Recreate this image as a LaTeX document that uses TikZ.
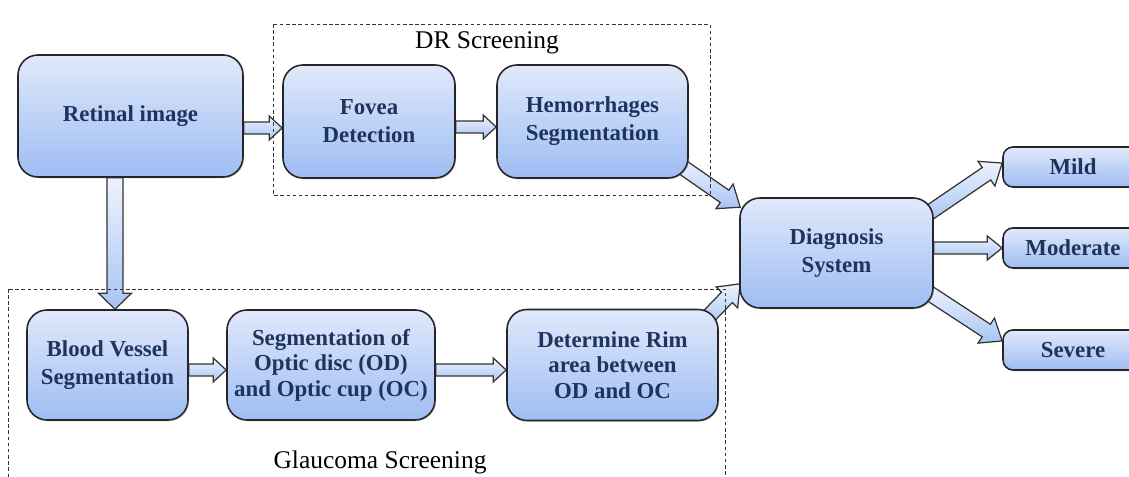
\documentclass[tikz,border=0pt]{standalone}
\usepackage{fontspec}
\setmainfont{Liberation Serif}
\usetikzlibrary{positioning, calc, shadows, backgrounds}

\definecolor{boxtop}{RGB}{224,233,251}
\definecolor{boxbot}{RGB}{158,189,243}
\definecolor{boxtext}{RGB}{30,52,92}
\definecolor{arrtop}{RGB}{238,243,253}
\definecolor{arrbot}{RGB}{168,196,245}

\newcommand{\blockarrow}[5]{%
  \path[barrow] let \p1=($(#2)-(#1)$), \n1={atan2(\y1,\x1)}, \n2={veclen(\x1,\y1)} in
    [shift={(#1)}, rotate=\n1]
    (0,-#3) -- ({\n2-#5},-#3) -- ({\n2-#5},-#4) -- ({\n2*1pt},0)
    -- ({\n2-#5},#4) -- ({\n2-#5},#3) -- (0,#3) -- cycle;}

\begin{document}
\begin{tikzpicture}[node distance=4cm,on grid,
    box/.style={draw=black!85, line width=0.9pt, rounded corners=0.4cm,
      top color=boxtop, bottom color=boxbot, text=boxtext, align=center,
      font=\fontsize{13}{16}\selectfont\bfseries, inner sep=2pt,
      drop shadow={opacity=0.3, shadow xshift=0.6pt, shadow yshift=-0.8pt}},
    grade/.style={box, rounded corners=0.2cm, minimum width=2.8cm, minimum height=0.8cm},
    barrow/.style={draw=black!80, line width=0.7pt, line join=miter,
      top color=arrtop, bottom color=arrbot},
    zone/.style={draw=black!80, line width=0.5pt, dash pattern=on 2pt off 1.5pt},
    sect/.style={font=\fontsize{14.5}{17}\selectfont}]
    \path[use as bounding box, clip] (0,0) rectangle (22.58,-9.54);

    \draw[zone] (5.46,-0.48) rectangle (14.2,-3.9);
    \draw[zone] (0.16,-5.78) rectangle (14.5,-10);
    \node[sect] (drlab) at (9.74,-0.86) {DR Screening};
    \node[sect] (gllab) at (7.6,-9.24) {Glaucoma Screening};

    \node[box, minimum width=4.5cm, minimum height=2.44cm] (retinal) at (2.61,-2.32) {Retinal image};
    \node[box, minimum width=3.44cm, minimum height=2.26cm] (fovea) at (7.38,-2.43) {Fovea\\Detection};
    \node[box, minimum width=3.82cm, minimum height=2.26cm, right=4.47cm of fovea] (hem) {Hemorrhages\\Segmentation};
    \node[box, minimum width=3.86cm, minimum height=2.2cm] (diag) at (16.73,-5.06) {Diagnosis\\System};
    \node[box, minimum width=3.22cm, minimum height=2.2cm] (blood) at (2.15,-7.3) {Blood Vessel\\Segmentation};
    \node[box, minimum width=4.16cm, minimum height=2.2cm, right=4.47cm of blood,
      font=\fontsize{13}{14.5}\selectfont\bfseries] (optic) {Segmentation of\\Optic disc (OD)\\and Optic cup (OC)};
    \node[box, minimum width=4.22cm, minimum height=2.22cm, right=5.63cm of optic,
      font=\fontsize{13}{14.5}\selectfont\bfseries] (rim) {Determine Rim\\area between\\OD and OC};
    \node[grade] (mild) at (21.46,-3.34) {Mild};
    \node[grade, below=1.62cm of mild] (moderate) {Moderate};
    \node[grade, below=2.04cm of moderate] (severe) {Severe};

    \coordinate (r1) at ($(retinal.east)+(0,-0.24)$);
    \coordinate (f1) at (fovea.west |- r1);
    \coordinate (f2) at ($(fovea.east)+(0,-0.11)$);
    \coordinate (h1) at (hem.west |- f2);
    \coordinate (r2) at ($(retinal.south)+(-0.31,0)$);
    \coordinate (b1) at (blood.north -| r2);
    \coordinate (b2) at ($(blood.east)+(0,-0.1)$);
    \coordinate (o1) at (optic.west |- b2);
    \coordinate (o2) at ($(optic.east)+(0,-0.1)$);
    \coordinate (m1) at (rim.west |- o2);
    \coordinate (h2) at ($(hem.south east)+(-0.15,0.25)$);
    \coordinate (d1) at ($(diag.north west)+(0.02,-0.2)$);
    \coordinate (m2) at ($(rim.north east)+(-0.3,-0.25)$);
    \coordinate (d2) at ($(diag.south west)+(0.02,0.5)$);
    \coordinate (d3) at ($(diag.north east)+(-0.15,-0.35)$);
    \coordinate (g1) at ($(mild.west)+(0,0.08)$);
    \coordinate (d4) at ($(diag.east)+(0,0.1)$);
    \coordinate (g2) at (moderate.west |- d4);
    \coordinate (d5) at ($(diag.south east)+(-0.15,0.35)$);
    \coordinate (g3) at ($(severe.west)+(0,0.18)$);

    \begin{scope}[on background layer]
    \blockarrow{r1}{f1}{0.12cm}{0.24cm}{0.26cm}
    \blockarrow{f2}{h1}{0.12cm}{0.24cm}{0.26cm}
    \blockarrow{r2}{b1}{0.16cm}{0.33cm}{0.32cm}
    \blockarrow{b2}{o1}{0.12cm}{0.24cm}{0.26cm}
    \blockarrow{o2}{m1}{0.12cm}{0.24cm}{0.26cm}
    \blockarrow{h2}{d1}{0.15cm}{0.3cm}{0.38cm}
    \blockarrow{m2}{d2}{0.15cm}{0.3cm}{0.38cm}
    \blockarrow{d3}{g1}{0.15cm}{0.3cm}{0.38cm}
    \blockarrow{d4}{g2}{0.12cm}{0.24cm}{0.3cm}
    \blockarrow{d5}{g3}{0.15cm}{0.3cm}{0.38cm}
    \end{scope}
\end{tikzpicture}
\end{document}
